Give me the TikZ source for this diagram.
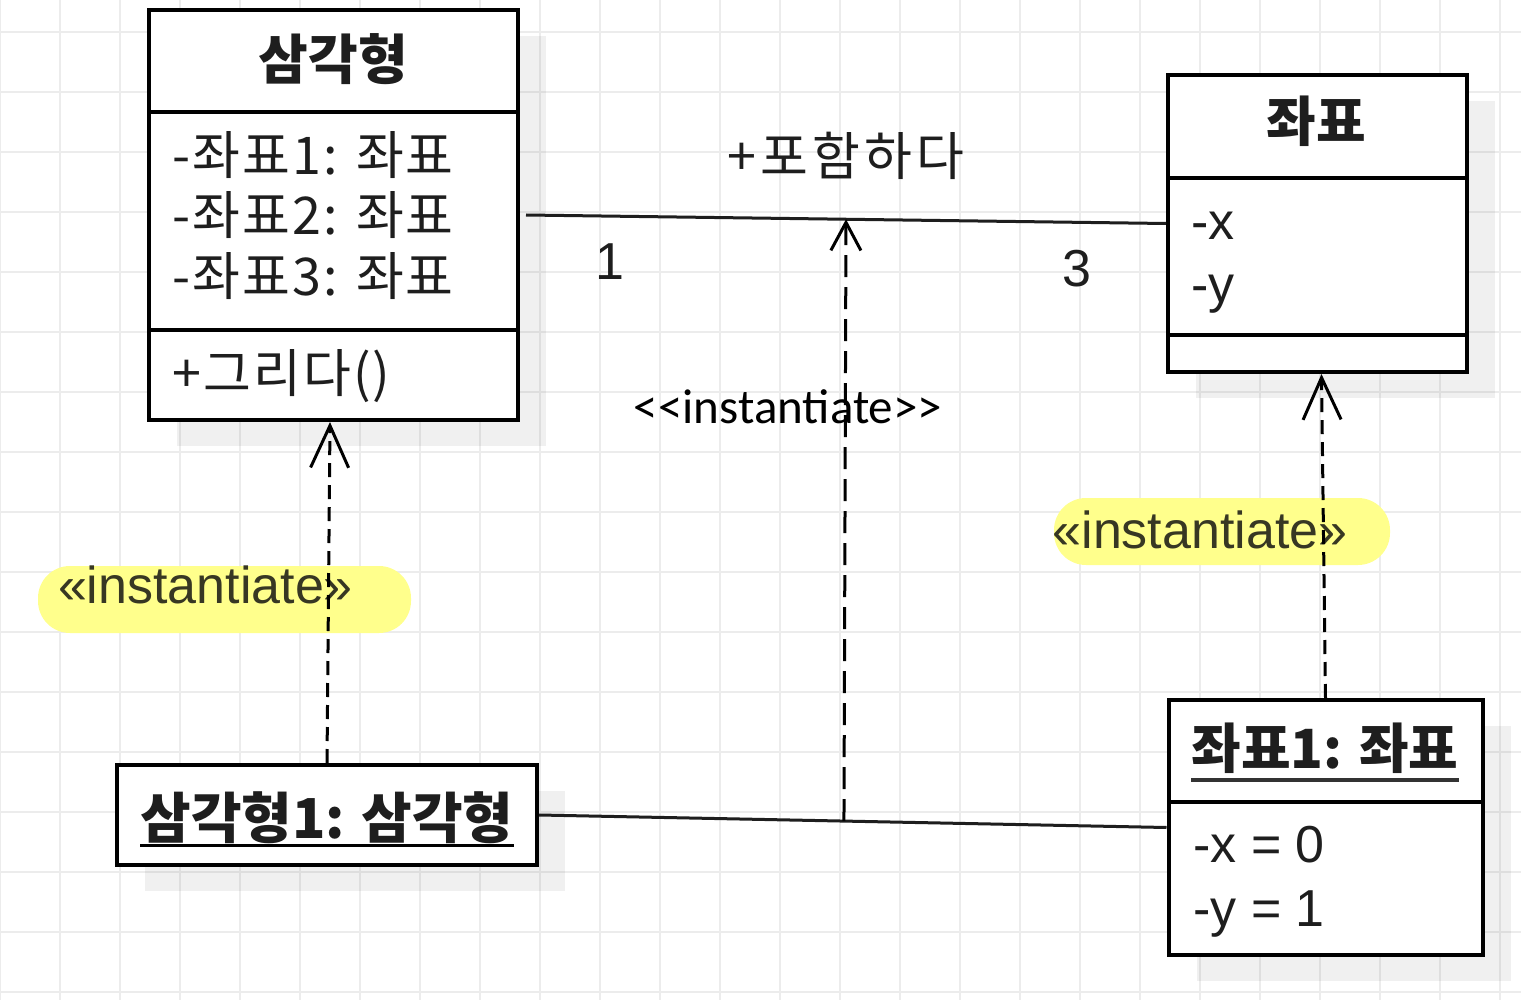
\documentclass[tikz,border=0pt]{standalone}
\usepackage{fontspec}
\setmainfont{Liberation Sans}
\newfontfamily\krfont{Noto Sans CJK KR}
\newfontfamily\krspaced[LetterSpace=4]{Noto Sans CJK KR}
\newfontfamily\calfont{Carlito}
\usetikzlibrary{calc,positioning,arrows.meta,shadows}
\definecolor{gridgrey}{RGB}{236,236,236}
\definecolor{inkgrey}{RGB}{30,30,30}
\definecolor{hlyellow}{RGB}{255,255,140}
\definecolor{hlink}{RGB}{55,55,35}

\tikzset{
    gridline/.style={gridgrey, line width=1pt},
    umlbox/.style={draw=black, line width=2pt, fill=white, inner sep=0pt,
        drop shadow={shadow xshift=14pt, shadow yshift=-13pt, fill=black, opacity=0.06}},
    umlrule/.style={black, line width=2pt},
    assocline/.style={inkgrey, line width=1.5pt},
    instdash/.style={black, line width=1.5pt, dash pattern=on 7pt off 4pt,
        -{Straight Barb[length=21pt, width=19pt]}},
    instarrow/.style={black, line width=1.5pt, dash pattern=on 11pt off 5pt,
        -{Straight Barb[length=14pt, width=15pt]}},
    krtext/.style={inner sep=0pt, text=inkgrey, font=\fontsize{26}{30}\selectfont\krspaced},
    krbold/.style={inner sep=0pt, text=inkgrey, font=\fontsize{26}{30}\selectfont\krfont\bfseries},
    latext/.style={inner sep=0pt, text=inkgrey, font=\fontsize{26}{30}\selectfont},
    hlbox/.style={fill=hlyellow, draw=none, rounded corners=16pt, inner sep=0pt, minimum height=33.5pt},
    hltext/.style={inner sep=0pt, text=hlink, font=\fontsize{26}{30}\selectfont}
}

\begin{document}
\begin{tikzpicture}[x=0.5pt, y=-0.5pt]

    % 0. 画布与网格背景
    \useasboundingbox (0,0) rectangle (1521,1000);
    \fill[white] (0,0) rectangle (1521,1000);
    \foreach \gx in {0,60,...,1500} \draw[gridline] (\gx,0) -- (\gx,1000);
    \foreach \gy in {32,92,...,992} \draw[gridline] (0,\gy) -- (1521,\gy);

    % 1. 类：삼각형
    \node (tri) at (333.5,215) [umlbox, minimum width=184.5pt, minimum height=205pt] {};
    \draw[umlrule] (149,112) -- (518,112);
    \draw[umlrule] (149,330) -- (518,330);
    \node (triname) at (333.5,80) [krbold, anchor=base, font=\fontsize{27}{30}\selectfont\krfont\bfseries] {삼각형};
    \node (triattr1) at (172,175) [krtext, anchor=base west] {-좌표1: 좌표};
    \node (triattr2) at (172,235) [krtext, anchor=base west] {-좌표2: 좌표};
    \node (triattr3) at (172,296) [krtext, anchor=base west] {-좌표3: 좌표};
    \node (trimeth) at (172,393) [krtext, anchor=base west] {+그리다()};

    % 2. 类：좌표
    \node (pt) at (1317.5,223.5) [umlbox, minimum width=149.5pt, minimum height=148.5pt] {};
    \draw[umlrule] (1168,178) -- (1467,178);
    \draw[umlrule] (1168,335) -- (1467,335);
    \node (ptname) at (1316,142) [krbold, anchor=base, font=\fontsize{27}{30}\selectfont\krfont\bfseries] {좌표};
    \node (ptattrx) at (1191,240) [latext, anchor=base west] {-x};
    \node (ptattry) at (1191,303) [latext, anchor=base west] {-y};

    % 3. 对象：삼각형1 与 좌표1
    \node (triobj) at (327,815) [umlbox, minimum width=210pt, minimum height=50pt] {};
    \node (triobjname) at (327,838) [krbold, anchor=base, font=\fontsize{27.5}{30}\selectfont\krfont\bfseries] {삼각형1: 삼각형};
    \draw[black, line width=1.5pt] ([yshift=-3.5pt]triobjname.base west) -- ([yshift=-3.5pt]triobjname.base east);

    \node (ptobj) at (1325.5,827.5) [umlbox, minimum width=157pt, minimum height=127.5pt] {};
    \draw[umlrule] (1169,802) -- (1482,802);
    \node (ptobjname) at (1325,768) [krbold, anchor=base, font=\fontsize{27}{30}\selectfont\krfont\bfseries] {좌표1: 좌표};
    \draw[black!80, line width=2pt] ([yshift=-6pt]ptobjname.base west) -- ([yshift=-6pt]ptobjname.base east);
    \node (ptobjx) at (1193,862) [latext, anchor=base west] {-x = 0};
    \node (ptobjy) at (1193,926) [latext, anchor=base west] {-y = 1};

    % 4. 关联与链接
    \coordinate (assocL) at ([xshift=3pt]tri.east);
    \draw[assocline] (assocL) -- (pt.west);
    \node (assocname) at (846,176) [krtext, anchor=base, font=\fontsize{26}{30}\selectfont\krfont\addfontfeature{LetterSpace=8}] {+포함하다};
    \node (multL) at (610,280) [latext, anchor=base] {1};
    \node (multR) at (1077,287) [latext, anchor=base] {3};

    \draw[assocline] (triobj.east) -- (ptobj.west);
    \coordinate (linkmid) at ($(triobj.east)!0.486!(ptobj.west)$);
    \coordinate (assocmid) at ($(assocL)!0.5!(pt.west)$);

    % 5. «instantiate» 依赖
    \node (hlL) at (224.5,599.5) [hlbox, minimum width=186.5pt] {};
    \node (hlR) at (1222,531.5) [hlbox, minimum width=168pt] {};
    \node (instL) at (205.5,603) [hltext, anchor=base] {«instantiate»};
    \node (instR) at (1200,548) [hltext, anchor=base] {«instantiate»};
    \node (instM) at (788,423) [inner sep=0pt, anchor=base, font=\fontsize{24.5}{28}\selectfont\calfont]
        {<\kern0pt<instantiate>\kern0pt>};

    \draw[instdash] (triobj.north) -- ([xshift=-1.75pt]tri.south);
    \draw[instdash] (ptobj.north) -- ([xshift=2pt]pt.south);
    \draw[instarrow] (linkmid) -- (assocmid);

\end{tikzpicture}
\end{document}
